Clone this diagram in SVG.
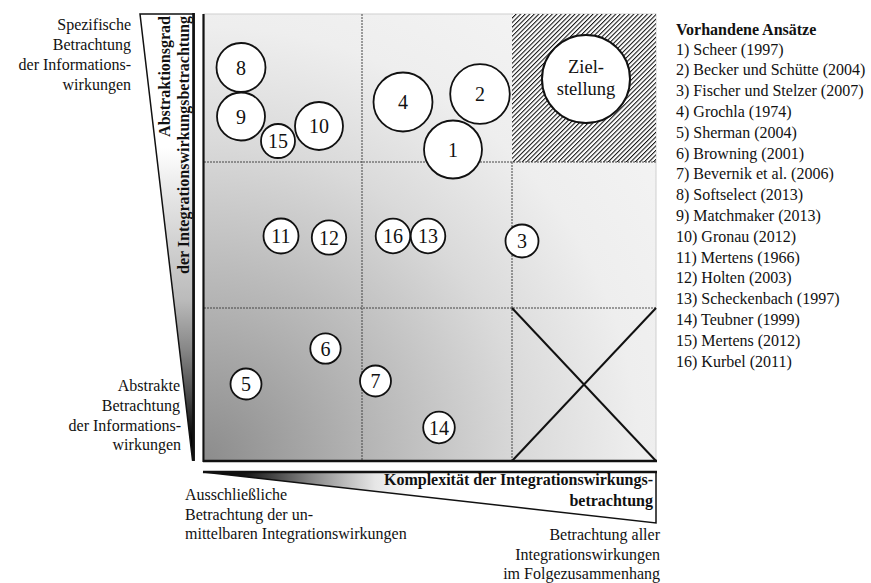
<svg xmlns="http://www.w3.org/2000/svg" width="871" height="583" viewBox="0 0 871 583">
  <defs>
    <radialGradient id="fieldShade" gradientUnits="userSpaceOnUse" cx="204" cy="461" r="640">
      <stop offset="0" stop-color="#8c8c8c"/>
      <stop offset="0.25" stop-color="#b4b4b4"/>
      <stop offset="0.5" stop-color="#dadada"/>
      <stop offset="0.68" stop-color="#eeeeee"/>
      <stop offset="1" stop-color="#f7f7f7"/>
    </radialGradient>
    <linearGradient id="wedgeV" gradientUnits="userSpaceOnUse" x1="0" y1="14" x2="0" y2="460">
      <stop offset="0" stop-color="#ffffff"/>
      <stop offset="0.3" stop-color="#ffffff"/>
      <stop offset="0.42" stop-color="#e3e3e3"/>
      <stop offset="0.64" stop-color="#bbbbbb"/>
      <stop offset="0.75" stop-color="#888888"/>
      <stop offset="0.865" stop-color="#444444"/>
      <stop offset="0.955" stop-color="#000000"/>
    </linearGradient>
    <linearGradient id="wedgeH" gradientUnits="userSpaceOnUse" x1="203" y1="0" x2="656" y2="0">
      <stop offset="0" stop-color="#000000"/>
      <stop offset="0.093" stop-color="#151515"/>
      <stop offset="0.24" stop-color="#888888"/>
      <stop offset="0.314" stop-color="#bbbbbb"/>
      <stop offset="0.38" stop-color="#e6e6e6"/>
      <stop offset="0.48" stop-color="#ffffff"/>
      <stop offset="1" stop-color="#ffffff"/>
    </linearGradient>
    <pattern id="hatch" patternUnits="userSpaceOnUse" width="3.2" height="3.2" patternTransform="rotate(45)">
      <rect width="3.2" height="3.2" fill="#ffffff"/>
      <line x1="0" y1="0" x2="0" y2="3.2" stroke="#111" stroke-width="2.1"/>
    </pattern>
  </defs>
  <style>
    text { font-family: "Liberation Serif", "Times New Roman", serif; fill: #111; }
    .lbl { font-size: 16px; }
    .bold { font-size: 16px; font-weight: bold; }
    .num { font-size: 20px; text-anchor: middle; }
    .dash { stroke: #444; stroke-width: 1; stroke-dasharray: 2 1; fill: none; }
    .circ { fill: #fff; stroke: #111; stroke-width: 1.8; }
    .edge { stroke: #111; fill: none; }
  </style>

  <rect width="871" height="583" fill="#ffffff"/>

  <!-- matrix field -->
  <g id="field">
    <rect x="204" y="14" width="452" height="447" fill="url(#fieldShade)" stroke="#cfcfcf" stroke-width="1"/>
    <rect x="512" y="14" width="144" height="148" fill="url(#hatch)"/>
    <line class="dash" x1="362" y1="14" x2="362" y2="461"/>
    <line class="dash" x1="512" y1="162" x2="512" y2="461"/>
    <line class="dash" x1="204" y1="162" x2="656" y2="162"/>
    <line class="dash" x1="204" y1="308" x2="656" y2="308"/>
    <!-- excluded corner -->
    <line class="edge" stroke-width="2" x1="512" y1="308" x2="656" y2="461"/>
    <line class="edge" stroke-width="2" x1="656" y1="308" x2="512" y2="461"/>
    <line class="edge" stroke-width="2.2" x1="203.5" y1="14" x2="203.5" y2="462"/>
    <line class="edge" stroke-width="2.5" x1="203" y1="461" x2="657" y2="461"/>
  </g>

  <!-- vertical axis wedge -->
  <g id="axis-abstraction">
    <path d="M140,14 L194,14 L194,460 L192.5,460 Z" fill="url(#wedgeV)" stroke="#111" stroke-width="1.5" stroke-linejoin="miter"/>
    <line class="edge" stroke-width="2.6" x1="193.5" y1="13" x2="193.5" y2="461"/>
    <text class="bold" transform="translate(170,16) rotate(-90)" text-anchor="end">Abstraktionsgrad</text>
    <text class="bold" transform="translate(189,16) rotate(-90)" text-anchor="end">der Integrationswirkungsbetrachtung</text>
  </g>

  <g id="label-specific" class="lbl" text-anchor="end">
    <text x="131" y="30">Spezifische</text>
    <text x="131" y="50">Betrachtung</text>
    <text x="131" y="70">der Informations-</text>
    <text x="131" y="90">wirkungen</text>
  </g>

  <g id="label-abstract" class="lbl" text-anchor="end">
    <text x="180" y="391">Abstrakte</text>
    <text x="180" y="411">Betrachtung</text>
    <text x="181" y="431">der Informations-</text>
    <text x="181" y="450">wirkungen</text>
  </g>

  <!-- horizontal axis wedge -->
  <g id="axis-complexity">
    <path d="M203,472 L656,472 L656,523 Z" fill="url(#wedgeH)" stroke="#111" stroke-width="1.5"/>
    <line class="edge" stroke-width="2.6" x1="203" y1="472" x2="657" y2="472"/>
    <text class="bold" x="653" y="485" text-anchor="end">Komplexität der Integrationswirkungs-</text>
    <text class="bold" x="653" y="506" text-anchor="end">betrachtung</text>
  </g>

  <g id="label-direct" class="lbl">
    <text x="185" y="500">Ausschließliche</text>
    <text x="185" y="520">Betrachtung der un-</text>
    <text x="185" y="539">mittelbaren Integrationswirkungen</text>
  </g>

  <g id="label-all" class="lbl" text-anchor="end">
    <text x="660" y="540">Betrachtung aller</text>
    <text x="660" y="560">Integrationswirkungen</text>
    <text x="660" y="579">im Folgezusammenhang</text>
  </g>

  <!-- target -->
  <g id="target">
    <circle cx="586" cy="79" r="44" fill="#fff" stroke="#111" stroke-width="2"/>
    <text x="586" y="73" font-size="18.5" text-anchor="middle">Ziel-</text>
    <text x="586" y="95" font-size="18.5" text-anchor="middle">stellung</text>
  </g>

  <!-- approaches -->
  <g id="n8"><circle class="circ" cx="241" cy="67.5" r="24.5"/><text class="num" x="241" y="74.5">8</text></g>
  <g id="n9"><circle class="circ" cx="241" cy="116.5" r="24"/><text class="num" x="241" y="123.5">9</text></g>
  <g id="n15"><circle class="circ" cx="278" cy="141" r="17"/><text class="num" x="278" y="148">15</text></g>
  <g id="n10"><circle class="circ" cx="319" cy="126" r="24"/><text class="num" x="319" y="133">10</text></g>
  <g id="n4"><circle class="circ" cx="403" cy="102" r="29.5"/><text class="num" x="403" y="109">4</text></g>
  <g id="n2"><circle class="circ" cx="480" cy="94" r="29.8"/><text class="num" x="480" y="101">2</text></g>
  <g id="n1"><circle class="circ" cx="453" cy="149.5" r="29"/><text class="num" x="453" y="156.5">1</text></g>
  <g id="n11"><circle class="circ" cx="281" cy="236" r="17.5"/><text class="num" x="281" y="243">11</text></g>
  <g id="n12"><circle class="circ" cx="329" cy="237.5" r="17.2"/><text class="num" x="329" y="244.5">12</text></g>
  <g id="n16"><circle class="circ" cx="393" cy="236" r="17.3"/><text class="num" x="393" y="243">16</text></g>
  <g id="n13"><circle class="circ" cx="428" cy="236" r="17.3"/><text class="num" x="428" y="243">13</text></g>
  <g id="n3"><circle class="circ" cx="522" cy="241" r="16.5"/><text class="num" x="522" y="248">3</text></g>
  <g id="n6"><circle class="circ" cx="325.5" cy="348.5" r="15.2"/><text class="num" x="325.5" y="355.5">6</text></g>
  <g id="n5"><circle class="circ" cx="246" cy="384" r="15.5"/><text class="num" x="246" y="391">5</text></g>
  <g id="n7"><circle class="circ" cx="375.5" cy="381" r="15.5"/><text class="num" x="375.5" y="388">7</text></g>
  <g id="n14"><circle class="circ" cx="439" cy="427.5" r="15.8"/><text class="num" x="439" y="434.5">14</text></g>

  <!-- legend -->
  <g id="legend" class="lbl">
    <text x="676" y="35" font-weight="bold">Vorhandene Ansätze</text>
    <text x="676" y="54.5">1) Scheer (1997)</text>
    <text x="676" y="75.3">2) Becker und Schütte (2004)</text>
    <text x="676" y="96.1">3) Fischer und Stelzer (2007)</text>
    <text x="676" y="116.9">4) Grochla (1974)</text>
    <text x="676" y="137.7">5) Sherman (2004)</text>
    <text x="676" y="158.5">6) Browning (2001)</text>
    <text x="676" y="179.3">7) Bevernik et al. (2006)</text>
    <text x="676" y="200.1">8) Softselect (2013)</text>
    <text x="676" y="220.9">9) Matchmaker (2013)</text>
    <text x="676" y="241.7">10) Gronau (2012)</text>
    <text x="676" y="262.5">11) Mertens (1966)</text>
    <text x="676" y="283.3">12) Holten (2003)</text>
    <text x="676" y="304.1">13) Scheckenbach (1997)</text>
    <text x="676" y="324.9">14) Teubner (1999)</text>
    <text x="676" y="345.7">15) Mertens (2012)</text>
    <text x="676" y="366.5">16) Kurbel (2011)</text>
  </g>
</svg>
